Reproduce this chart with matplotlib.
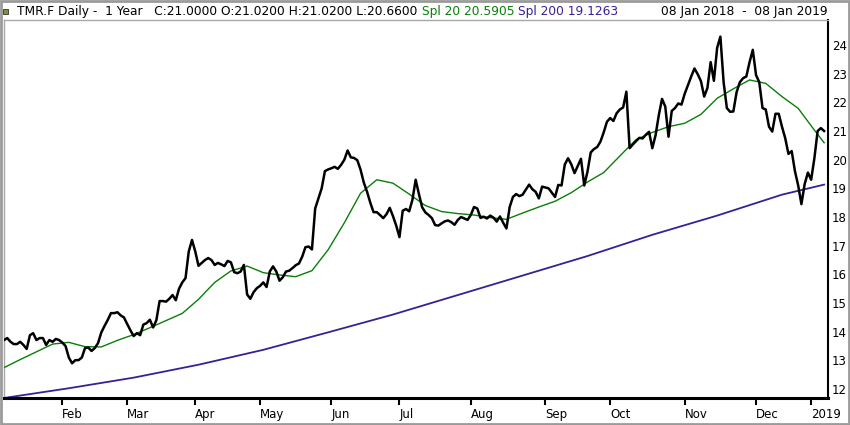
import matplotlib
matplotlib.use("Agg")
import matplotlib.pyplot as plt
from matplotlib.patches import Rectangle
import pandas as pd

# ---------------- data ----------------
symbol = "TMR.F"
period_text = "Daily -  1 Year"
ohlc_close, ohlc_open, ohlc_high, ohlc_low = 21.0000, 21.0200, 21.0200, 20.6600
sma20_last, sma200_last = 20.5905, 19.1263
range_text = "08 Jan 2018  -  08 Jan 2019"

start_date, end_date = "2018-01-08", "2019-01-08"
holidays = ["2018-03-30", "2018-04-02", "2018-05-01", "2018-12-24",
            "2018-12-25", "2018-12-26", "2018-12-31", "2019-01-01"]

close = [13.71, 13.78, 13.65, 13.57, 13.57, 13.65, 13.54, 13.40, 13.88, 13.95,
         13.71, 13.78, 13.78, 13.54, 13.71, 13.65, 13.75, 13.71, 13.62, 13.50,
         13.10, 12.90, 13.01, 13.01, 13.10, 13.43, 13.45, 13.33, 13.43, 13.60,
         13.97, 14.20, 14.41, 14.65, 14.65, 14.68, 14.57, 14.50, 14.27, 14.05,
         13.85, 13.95, 13.88, 14.25, 14.30, 14.42, 14.15, 14.40, 15.07, 15.07,
         15.05, 15.15, 15.28, 15.10, 15.50, 15.72, 15.87, 16.80, 17.20, 16.80,
         16.30, 16.40, 16.50, 16.57, 16.50, 16.33, 16.40, 16.35, 16.29, 16.47,
         16.42, 16.08, 16.04, 16.10, 16.33, 15.30, 15.15, 15.38, 15.52, 15.60,
         15.72, 15.56, 16.10, 16.28, 16.10, 15.78, 15.90, 16.10, 16.13, 16.22,
         16.32, 16.38, 16.62, 16.95, 16.97, 16.87, 18.30, 18.65, 19.00, 19.60,
         19.66, 19.70, 19.75, 19.68, 19.82, 20.00, 20.32, 20.08, 20.06, 19.98,
         19.65, 19.20, 18.88, 18.50, 18.17, 18.17, 18.07, 17.96, 18.10, 18.32,
         18.03, 17.70, 17.30, 18.22, 18.28, 18.20, 18.60, 19.30, 18.80, 18.34,
         18.16, 18.07, 17.96, 17.72, 17.70, 17.78, 17.85, 17.88, 17.82, 17.73,
         17.90, 18.00, 17.95, 17.90, 18.07, 18.35, 18.30, 17.97, 18.01, 17.95,
         18.05, 17.98, 17.84, 18.02, 17.80, 17.60, 18.35, 18.70, 18.80, 18.73,
         18.78, 18.96, 19.13, 18.97, 18.88, 18.65, 19.06, 19.03, 19.00, 18.85,
         18.70, 19.12, 19.10, 19.83, 20.05, 19.84, 19.53, 19.78, 20.03, 19.10,
         19.58, 20.25, 20.37, 20.44, 20.63, 20.95, 21.32, 21.45, 21.35, 21.62,
         21.75, 21.82, 22.37, 20.40, 20.53, 20.65, 20.76, 20.74, 20.87, 20.97,
         20.40, 20.85, 21.55, 22.12, 21.85, 20.80, 21.70, 21.80, 21.96, 21.92,
         22.30, 22.60, 22.90, 23.18, 22.98, 22.74, 22.20, 22.50, 23.40, 22.75,
         23.90, 24.29, 22.70, 21.80, 21.67, 21.68, 22.35, 22.70, 22.84, 22.90,
         23.40, 23.83, 22.95, 22.70, 21.80, 21.75, 21.15, 20.98, 21.60, 21.60,
         21.15, 20.75, 20.20, 20.30, 19.60, 19.10, 18.45, 19.15, 19.55, 19.30,
         20.05, 21.00, 21.10, 21.00]

# SMA 20 read at every 5th trading day (plus the last day)
sma20_days = list(range(0, 251, 5)) + [253]
sma20 = [12.75, 13.03, 13.30, 13.57, 13.63, 13.48, 13.47, 13.70, 13.90, 14.14,
         14.39, 14.64, 15.13, 15.72, 16.12, 16.29, 16.06, 15.98, 15.92, 16.13,
         16.86, 17.80, 18.83, 19.30, 19.18, 18.80, 18.40, 18.19, 18.12, 18.07,
         17.98, 17.92, 18.14, 18.35, 18.55, 18.85, 19.22, 19.55, 20.13, 20.70,
         20.95, 21.15, 21.27, 21.58, 22.14, 22.47, 22.78, 22.66, 22.20, 21.79,
         21.03, 20.59]

# SMA 200 read at every 20th trading day (plus the last day)
sma200_days = list(range(0, 241, 20)) + [253]
sma200 = [11.69, 12.03, 12.40, 12.85, 13.37, 13.98, 14.60, 15.28, 15.96, 16.64,
          17.38, 18.05, 18.78, 19.13]

y_ticks = list(range(12, 25))

# ---------------- trading calendar ----------------
days = pd.bdate_range(start_date, end_date)
days = days[~days.isin(pd.to_datetime(holidays))]
n = min(len(days), len(close))
x = list(range(n))
month_idx = [i for i in range(1, len(days)) if days[i].month != days[i - 1].month]
month_lbl = [days[i].strftime("%Y") if days[i].month == 1 else days[i].strftime("%b")
             for i in month_idx]

# ---------------- figure ----------------
W, H = 850, 425
fig = plt.figure(figsize=(W / 100, H / 100), dpi=100)
fig.patch.set_facecolor("white")
ax = fig.add_axes([4 / W, 27 / H, 824 / W, 378 / H])

GREEN = "#0b7d0b"
INDIGO = "#3a1f96"

ax.plot(sma200_days, sma200, color=INDIGO, lw=1.3, zorder=2)
ax.plot(sma20_days, sma20, color=GREEN, lw=1.0, zorder=3)
ax.plot(x, close[:n], color="black", lw=1.8, zorder=4, solid_joinstyle="round")

ax.set_xlim(0, 254.2)
ax.set_ylim(11.69, 24.87)

ax.yaxis.tick_right()
ax.set_yticks(y_ticks)
ax.set_yticklabels([str(v) for v in y_ticks])
ax.tick_params(axis="y", length=0, pad=3, labelsize=8.5, labelcolor="black")
ax.set_xticks(month_idx)
ax.set_xticklabels(month_lbl)
ax.tick_params(axis="x", direction="out", length=5, width=1.5, pad=2,
               labelsize=8.5, color="black")
for lbl in ax.get_xticklabels():
    lbl.set_ha("left")
for lbl in ax.get_xticklabels() + ax.get_yticklabels():
    lbl.set_family(["Liberation Sans Narrow", "DejaVu Sans"])

for s in ("top", "left"):
    ax.spines[s].set_color("#a8a8a8")
    ax.spines[s].set_linewidth(1.0)
ax.spines["right"].set_color("black")
ax.spines["right"].set_linewidth(1.5)
ax.spines["bottom"].set_color("black")
ax.spines["bottom"].set_linewidth(2.2)

# outer frame
fig.patches.append(Rectangle((0.001, 0.002), 0.998, 0.996, transform=fig.transFigure,
                             fill=False, edgecolor="#9a9a9a", lw=2.0))
# small icon
fig.patches.append(Rectangle((3 / W, 1 - 14 / H), 5 / W, 5 / H, transform=fig.transFigure,
                             facecolor="#8c8c3c", edgecolor="#333333", lw=0.6))

hy = 1 - 11 / H
fs = 8.8
t1 = fig.text(17 / W, hy, f"{symbol} {period_text}   C:{ohlc_close:.4f} O:{ohlc_open:.4f} "
              f"H:{ohlc_high:.4f} L:{ohlc_low:.4f}", fontsize=fs, va="center", color="black")
an2 = ax.annotate(f"Spl 20 {sma20_last:.4f}", xy=(1, 0.5), xycoords=t1, xytext=(3, 0),
                  textcoords="offset points", fontsize=fs, va="center", color=GREEN,
                  annotation_clip=False)
an3 = ax.annotate(f"Spl 200 {sma200_last:.4f}", xy=(1, 0.5), xycoords=an2, xytext=(3, 0),
                  textcoords="offset points", fontsize=fs, va="center", color=INDIGO,
                  annotation_clip=False)
fig.text(828 / W, hy, range_text, fontsize=fs, va="center", ha="right", color="black")

fig.savefig("out.png", dpi=100)
